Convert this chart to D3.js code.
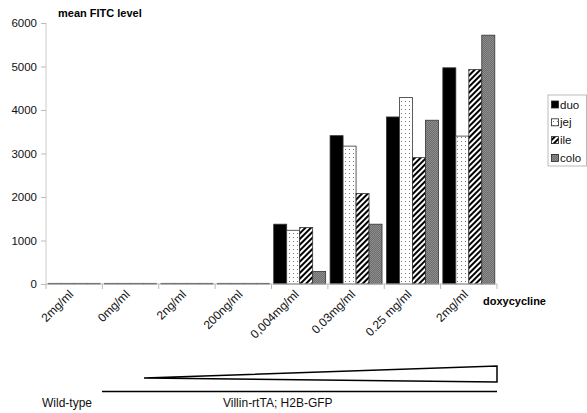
<!DOCTYPE html>
<html><head><meta charset="utf-8">
<script src="https://cdn.jsdelivr.net/npm/d3@7"></script>
<style>body{margin:0;background:#fff}svg{display:block;font-family:"Liberation Sans",Arial,sans-serif}</style>
</head><body><svg id="c" width="587" height="413"></svg>
<script>
const categories = ["2mg/ml","0mg/ml","2ng/ml","200ng/ml","0,004mg/ml","0.03mg/ml","0.25 mg/ml","2mg/ml"];
const seriesNames = ["duo","jej","ile","colo"];
const duo  = [15,15,15,15,1375,3410,3840,4970];
const jej  = [15,15,15,15,1235,3170,4285,3400];
const ile  = [15,15,15,15,1300,2080,2905,4930];
const colo = [15,15,15,15,290,1375,3765,5720];
const yTicks = [0,1000,2000,3000,4000,5000,6000];
const values = [duo,jej,ile,colo];

const svg = d3.select("#c");
const defs = svg.append("defs");
const pd = defs.append("pattern").attr("id","p-jej").attr("patternUnits","userSpaceOnUse").attr("width",4).attr("height",4);
pd.append("rect").attr("width",4).attr("height",4).attr("fill","#fff");
pd.append("rect").attr("x",1).attr("y",1).attr("width",1).attr("height",1).attr("fill","#777");
const ph = defs.append("pattern").attr("id","p-ile").attr("patternUnits","userSpaceOnUse").attr("width",4).attr("height",4).attr("patternTransform","rotate(45)");
ph.append("rect").attr("width",4).attr("height",4).attr("fill","#fff");
ph.append("rect").attr("width",2).attr("height",4).attr("fill","#000");
const pc = defs.append("pattern").attr("id","p-colo").attr("patternUnits","userSpaceOnUse").attr("width",2).attr("height",2);
pc.append("rect").attr("width",2).attr("height",2).attr("fill","#6e6e6e");
pc.append("rect").attr("width",1).attr("height",1).attr("fill","#8c8c8c");
pc.append("rect").attr("x",1).attr("y",1).attr("width",1).attr("height",1).attr("fill","#8c8c8c");
const fills = ["#000","url(#p-jej)","url(#p-ile)","url(#p-colo)"];

const x0 = 46, x1 = 497, yTop = 23, yBot = 284;
const x = d3.scaleBand().domain(categories.map((c,i)=>i)).range([x0,x1]).paddingInner(0).paddingOuter(0);
const xs = d3.scaleBand().domain(seriesNames).range([0,x.bandwidth()]).paddingInner(0).paddingOuter(0.17);
const y = d3.scaleLinear().domain([0,6000]).range([yBot,yTop]);

seriesNames.forEach((s,si)=>{
  svg.append("g").selectAll("rect").data(values[si]).join("rect")
    .attr("x",(d,i)=>x(i)+xs(s)).attr("width",xs.bandwidth())
    .attr("y",d=>y(d)).attr("height",d=>yBot-y(d))
    .attr("fill",fills[si]).attr("stroke","#333").attr("stroke-width",0.8);
});

const ya = svg.append("g").attr("transform",`translate(${x0},0)`).call(d3.axisLeft(y).tickValues(yTicks).tickSize(5).tickPadding(4).tickFormat(d3.format("d")));
ya.selectAll("text").attr("font-size",11.5).attr("fill","#111");
ya.selectAll("line").attr("stroke","#bbb");
ya.select(".domain").attr("stroke","#ccc").attr("d",`M0,${yTop}V${yBot}`);

const xg = svg.append("g");
xg.append("line").attr("x1",x0).attr("x2",x1).attr("y1",yBot).attr("y2",yBot).attr("stroke","#bbb");
xg.selectAll("line.t").data(d3.range(categories.length+1)).join("line").attr("class","t")
  .attr("x1",i=>x0+i*x.bandwidth()).attr("x2",i=>x0+i*x.bandwidth()).attr("y1",yBot).attr("y2",yBot+5).attr("stroke","#bbb");
xg.selectAll("text").data(categories).join("text")
  .attr("transform",(d,i)=>`translate(${x(i)+x.bandwidth()/2},${yBot+11}) rotate(-45)`)
  .attr("text-anchor","end").attr("font-size",12).attr("fill","#111").text(d=>d);

svg.append("text").attr("x",58).attr("y",17).attr("font-size",11).attr("font-weight","bold").text("mean FITC level");
svg.append("text").attr("x",483).attr("y",305).attr("font-size",11).attr("font-weight","bold").text("doxycycline");

const lg = svg.append("g");
lg.append("rect").attr("x",548).attr("y",95).attr("width",38.5).attr("height",71).attr("fill","#fff").attr("stroke","#bbb");
seriesNames.forEach((s,i)=>{
  const yy = 105 + i*17.8;
  lg.append("rect").attr("x",551.5).attr("y",yy-4).attr("width",7).attr("height",7).attr("fill",fills[i]).attr("stroke","#222").attr("stroke-width",0.8);
  lg.append("text").attr("x",560).attr("y",yy+3.5).attr("font-size",11.5).attr("fill","#111").text(s);
});

svg.append("path").attr("d","M144,378L497,366L497,382Z").attr("fill","#fff").attr("stroke","#000").attr("stroke-width",1.5).attr("stroke-linejoin","miter");
svg.append("line").attr("x1",102).attr("x2",497).attr("y1",391.5).attr("y2",391.5).attr("stroke","#000").attr("stroke-width",1.6);
svg.append("text").attr("x",42).attr("y",407).attr("font-size",12).attr("fill","#111").text("Wild-type");
svg.append("text").attr("x",223).attr("y",407).attr("font-size",12).attr("fill","#111").text("Villin-rtTA; H2B-GFP");
</script></body></html>
